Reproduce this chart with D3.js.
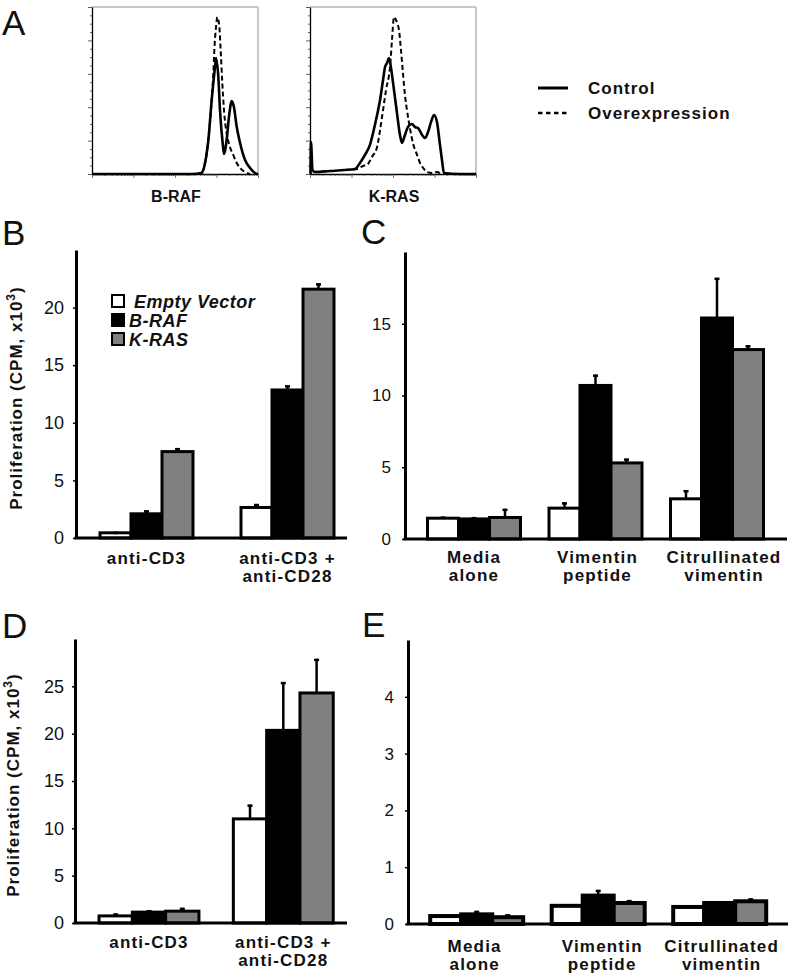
<!DOCTYPE html>
<html><head><meta charset="utf-8">
<script src="https://cdn.jsdelivr.net/npm/d3@7"></script>
<style>
body{margin:0;background:#fff}
svg{display:block}
text{font-family:"Liberation Sans",Arial,Helvetica,sans-serif}
</style>
</head><body>
<svg id="chart" width="789" height="974"></svg>
<script>
// ---------------- DATA ----------------
// Panel A: flow cytometry histograms, x = channel (% of range), y = % of max count
const brafControl = [[0,0],[20,0],[40,0],[60,0],[66.1,0.6],[68.1,6.6],[70.1,20.4],[72.1,44.3],[74.1,64.1],[74.7,69.5],[76.1,58.1],[77.1,38.3],[78.7,18.6],[79.5,12.0],[81.1,20.4],[82.5,34.1],[84.2,43.7],[85.5,40.1],[87.2,28.1],[89.2,18.6],[92.2,8.4],[95.2,3.6],[98.2,0.6],[100,0]];
const brafOver = [[66.1,0.6],[68.1,6.6],[70.1,20.4],[72.1,44.3],[73.1,60.5],[73.7,74.3],[74.7,88.0],[75.5,94.0],[76.7,88.0],[77.5,74.3],[78.5,54.5],[79.5,38.3],[81.1,24.6],[83.1,16.2],[85.1,11.4],[87.2,6.6],[89.2,3.6],[92.2,1.2],[95.2,0]];
const krasControl = [[0.3,0],[0.6,19.2],[1.5,2.4],[3,1.2],[12,1.8],[21.1,2.4],[27.1,3.0],[30.1,6.6],[33.1,11.4],[36.1,17.4],[38,24.6],[40.4,35.3],[42.2,44.3],[44,56.3],[45.2,64.1],[46.4,66.5],[47.6,69.5],[48.8,63.5],[50.6,50.3],[52.4,36.5],[54.2,23.4],[55.4,18.6],[57.2,23.4],[59,28.1],[61.4,29.9],[63.3,28.1],[65.1,27.5],[67.5,23.4],[69.3,21.6],[71.1,25.1],[72.9,31.1],[74.7,35.3],[76.5,31.1],[78.3,17.4],[79.5,8.4],[80.7,0.6],[90,0],[100,0]];
const krasOver = [[21.1,2.4],[28.3,3.0],[31.9,4.8],[34.3,5.4],[37.3,10.2],[40.4,16.2],[42.2,26.3],[44,38.3],[45.8,50.3],[48.2,64.1],[49.4,80.2],[50.6,94.0],[51.8,92.2],[53.6,86.2],[54.8,74.3],[56,60.5],[57.2,47.3],[58.4,38.3],[60.2,27.5],[62,18.6],[64.5,11.4],[66.3,6.6],[68.7,3.0],[70.5,1.2],[73.5,0.6],[76.5,1.2],[78.9,0]];
const histNames = ["B-RAF","K-RAS"];
const histLegend = ["Control","Overexpression"];

// Bar panels
const seriesNames = ["Empty Vector","B-RAF","K-RAS"];
const catsAnti = [["anti-CD3"],["anti-CD3 +","anti-CD28"]];
const catsVim = [["Media","alone"],["Vimentin","peptide"],["Citrullinated","vimentin"]];

// Panel B
const bEmpty = [0.45, 2.65], bEmptyErr = [0.08, 0.3];
const bBraf  = [2.1, 12.85], bBrafErr  = [0.3, 0.4];
const bKras  = [7.5, 21.6],  bKrasErr  = [0.3, 0.5];
const bTicks = [0,5,10,15,20];
// Panel C
const cEmpty = [1.45, 2.15, 2.8], cEmptyErr = [0.1, 0.4, 0.6];
const cBraf  = [1.4, 10.7, 15.4], cBrafErr  = [0.12, 0.75, 2.8];
const cKras  = [1.5, 5.3, 13.2],  cKrasErr  = [0.6, 0.3, 0.3];
const cTicks = [0,5,10,15];
// Panel D
const dEmpty = [0.75, 11.0],  dEmptyErr = [0.25, 1.5];
const dBraf  = [1.15, 20.35], dBrafErr  = [0.2, 5.1];
const dKras  = [1.25, 24.3],  dKrasErr  = [0.35, 3.6];
const dTicks = [0,5,10,15,20,25];
// Panel E
const eEmpty = [0.14, 0.32, 0.30], eEmptyErr = [0.0, 0.0, 0.03];
const eBraf  = [0.17, 0.50, 0.37], eBrafErr  = [0.06, 0.1, 0.0];
const eKras  = [0.12, 0.37, 0.40], eKrasErr  = [0.05, 0.05, 0.05];
const eTicks = [0,1,2,3,4];

const yTitle = "Proliferation (CPM, x10";
const yTitleSup = "3";

// ---------------- STYLE ----------------
const fills = {"Empty Vector":"#ffffff","B-RAF":"#000000","K-RAS":"#808080"};
const svg = d3.select("#chart");

// ---------------- PANEL LETTERS ----------------
[["A",2,35],["B",2,245],["C",361,244],["D",2,638],["E",362,637]].forEach(([t,x,y])=>{
  svg.append("text").attr("x",x).attr("y",y).attr("font-size",35).attr("fill","#111").text(t);
});

// ---------------- PANEL A ----------------
function histogram(x0, x1, y0, y1, ctrl, over, name){
  const x = d3.scaleLinear().domain([0,100]).range([x0,x1]);
  const y = d3.scaleLinear().domain([0,100]).range([y1,y0]);
  const xl = d3.scaleLog().domain([1,10000]).range([x0,x1]);
  const g = svg.append("g");
  g.append("line").attr("x1",x0).attr("x2",x1).attr("y1",y0).attr("y2",y0).attr("stroke","#b5b5b5").attr("stroke-width",1.5);
  g.append("line").attr("x1",x1).attr("x2",x1).attr("y1",y0).attr("y2",y1).attr("stroke","#b5b5b5").attr("stroke-width",1.5);
  const ya = g.append("g").attr("transform",`translate(${x0},0)`)
    .call(d3.axisLeft(y).tickValues(d3.range(0,101,5)).tickSizeOuter(0).tickFormat(""));
  ya.select(".domain").attr("stroke","#000").attr("stroke-width",1.3);
  ya.selectAll(".tick line").attr("stroke","#333").attr("stroke-width",0.8)
    .attr("x2",d=> d%20===0 ? -4 : -2);
  const lt = [];
  for(let dec=1; dec<10000; dec*=10){ for(let m=1;m<10;m++) lt.push(dec*m); }
  lt.push(10000);
  const xa = g.append("g").attr("transform",`translate(0,${y1})`)
    .call(d3.axisBottom(xl).tickValues(lt).tickSizeOuter(0).tickFormat(""));
  xa.select(".domain").attr("stroke","#000").attr("stroke-width",1.3);
  xa.selectAll(".tick line").attr("stroke","#444").attr("stroke-width",0.7)
    .attr("y2",d=> Math.abs(Math.log10(d)%1)<1e-9 ? 4 : 2);
  const line = d3.line().x(d=>x(d[0])).y(d=>y(d[1])).curve(d3.curveMonotoneX);
  g.append("path").datum(over).attr("d",line).attr("fill","none").attr("stroke","#000")
    .attr("stroke-width",2).attr("stroke-dasharray","5,3");
  g.append("path").datum(ctrl).attr("d",line).attr("fill","none").attr("stroke","#000")
    .attr("stroke-width",2.6).attr("stroke-linejoin","round");
  g.append("text").attr("x",(x0+x1)/2+1).attr("y",202).attr("text-anchor","middle")
    .attr("font-size",16).attr("font-weight","bold").attr("fill","#111").text(name);
}
histogram(92,258,7,174,brafControl,brafOver,histNames[0]);
histogram(310,476,7,174,krasControl,krasOver,histNames[1]);

const legA = svg.append("g");
histLegend.forEach((t,i)=>{
  const yy = 88 + i*25;
  legA.append("line").attr("x1",538).attr("x2",568).attr("y1",yy).attr("y2",yy)
    .attr("stroke","#000").attr("stroke-width",i===0?3:2.5)
    .attr("stroke-dasharray",i===0?null:"4.5,3.5");
  legA.append("text").attr("x",588).attr("y",yy+6).attr("font-size",17).attr("font-weight","bold")
    .attr("letter-spacing",1).attr("fill","#111").text(t);
});

// ---------------- BAR PANELS ----------------
function barPanel(cfg){
  const y = d3.scaleLinear().domain([0,cfg.ymax]).range([cfg.yBase, cfg.yTop]);
  const gx = d3.scalePoint().domain(d3.range(cfg.cats.length)).range(cfg.centers);
  const bx = d3.scaleBand().domain(seriesNames).range([-cfg.bw*1.5, cfg.bw*1.5]);
  const g = svg.append("g");
  const ya = g.append("g").attr("transform",`translate(${cfg.ax},0)`)
    .call(d3.axisLeft(y).tickValues(cfg.ticks).tickFormat(d3.format("d"))
      .tickSizeInner(3).tickSizeOuter(0).tickPadding(cfg.pad));
  ya.select(".domain").attr("stroke","#000").attr("stroke-width",3);
  ya.selectAll(".tick line").attr("stroke","#000").attr("stroke-width",1.5);
  ya.selectAll(".tick text").attr("font-size",cfg.tickFont).attr("fill","#111")
    .attr("font-family","'Liberation Sans',Arial,sans-serif");
  cfg.cats.forEach((c,ci)=>{
    seriesNames.forEach((s,si)=>{
      const v = cfg.vals[si][ci];
      g.append("rect")
        .attr("x", gx(ci)+bx(s)).attr("width", bx.bandwidth())
        .attr("y", y(v)).attr("height", y(0)-y(v))
        .attr("fill", fills[s]).attr("stroke","#000").attr("stroke-width",cfg.sw);
    });
  });
  cfg.cats.forEach((c,ci)=>{
    seriesNames.forEach((s,si)=>{
      const v = cfg.vals[si][ci], e = cfg.errs[si][ci];
      if(e<=0) return;
      const cx = gx(ci)+bx(s)+bx.bandwidth()/2;
      g.append("line").attr("x1",cx).attr("x2",cx).attr("y1",y(v)).attr("y2",y(v+e))
        .attr("stroke","#000").attr("stroke-width",2.5);
      g.append("line").attr("x1",cx-2.5).attr("x2",cx+2.5).attr("y1",y(v+e)+1).attr("y2",y(v+e)+1)
        .attr("stroke","#000").attr("stroke-width",2.5);
    });
  });
  g.append("line").attr("x1",cfg.ax-1.5).attr("x2",cfg.xEnd).attr("y1",y(0)).attr("y2",y(0))
    .attr("stroke","#000").attr("stroke-width",3);
  cfg.cats.forEach((lines,ci)=>{
    lines.forEach((t,li)=>{
      g.append("text").attr("x",gx(ci)+(cfg.labelDx?cfg.labelDx[ci]:0)).attr("y",cfg.labelY + li*18)
        .attr("text-anchor","middle").attr("font-size",17).attr("font-weight","bold")
        .attr("letter-spacing",1.2).attr("fill","#111").text(t);
    });
  });
  if(cfg.title){
    const t = g.append("text").attr("transform",`translate(${cfg.titleX},${cfg.titleY}) rotate(-90)`)
      .attr("text-anchor","middle").attr("font-size",17).attr("font-weight","bold")
      .attr("letter-spacing",1).attr("fill","#111");
    t.append("tspan").text(yTitle);
    t.append("tspan").attr("dy",-7).attr("font-size",12).text(yTitleSup);
    t.append("tspan").attr("dy",7).text(")");
  }
  return {y, g};
}

// Panel B
const pB = barPanel({ymax:25, yBase:538, yTop:250, ax:76, xEnd:347, centers:[146.5,287.5], bw:31,
  ticks:bTicks, pad:9, tickFont:18, sw:3, cats:catsAnti,
  vals:[bEmpty,bBraf,bKras], errs:[bEmptyErr,bBrafErr,bKrasErr], labelY:564,
  title:true, titleX:22, titleY:398});
seriesNames.forEach((s,i)=>{
  const yy = 301 + i*19;
  pB.g.append("rect").attr("x",112).attr("y",yy-6).attr("width",12).attr("height",12)
    .attr("fill",fills[s]).attr("stroke","#000").attr("stroke-width",2);
  pB.g.append("text").attr("x", i===0 ? 134 : 129).attr("y",yy+6.5).attr("font-size",18)
    .attr("font-weight","bold").attr("font-style","italic").attr("letter-spacing",0.5)
    .attr("fill","#111").text(s);
});

// Panel C
barPanel({ymax:20, yBase:539, yTop:252, ax:405, xEnd:787, centers:[474,717], bw:31,
  ticks:cTicks, pad:11, tickFont:17, sw:3, cats:catsVim, labelDx:[0,2,7],
  vals:[cEmpty,cBraf,cKras], errs:[cEmptyErr,cBrafErr,cKrasErr], labelY:563, title:false});

// Panel D
barPanel({ymax:30, yBase:923, yTop:639, ax:75, xEnd:347, centers:[149,283.3], bw:33.3,
  ticks:dTicks, pad:8, tickFont:18, sw:3, cats:catsAnti,
  vals:[dEmpty,dBraf,dKras], errs:[dEmptyErr,dBrafErr,dKrasErr], labelY:948,
  title:true, titleX:19, titleY:785});

// Panel E
barPanel({ymax:5, yBase:924, yTop:640, ax:408, xEnd:788, centers:[476.7,719.7], bw:31,
  ticks:eTicks, pad:11, tickFont:17, sw:4, cats:catsVim, labelDx:[-2,4,2],
  vals:[eEmpty,eBraf,eKras], errs:[eEmptyErr,eBrafErr,eKrasErr], labelY:952, title:false});
</script>
</body></html>
